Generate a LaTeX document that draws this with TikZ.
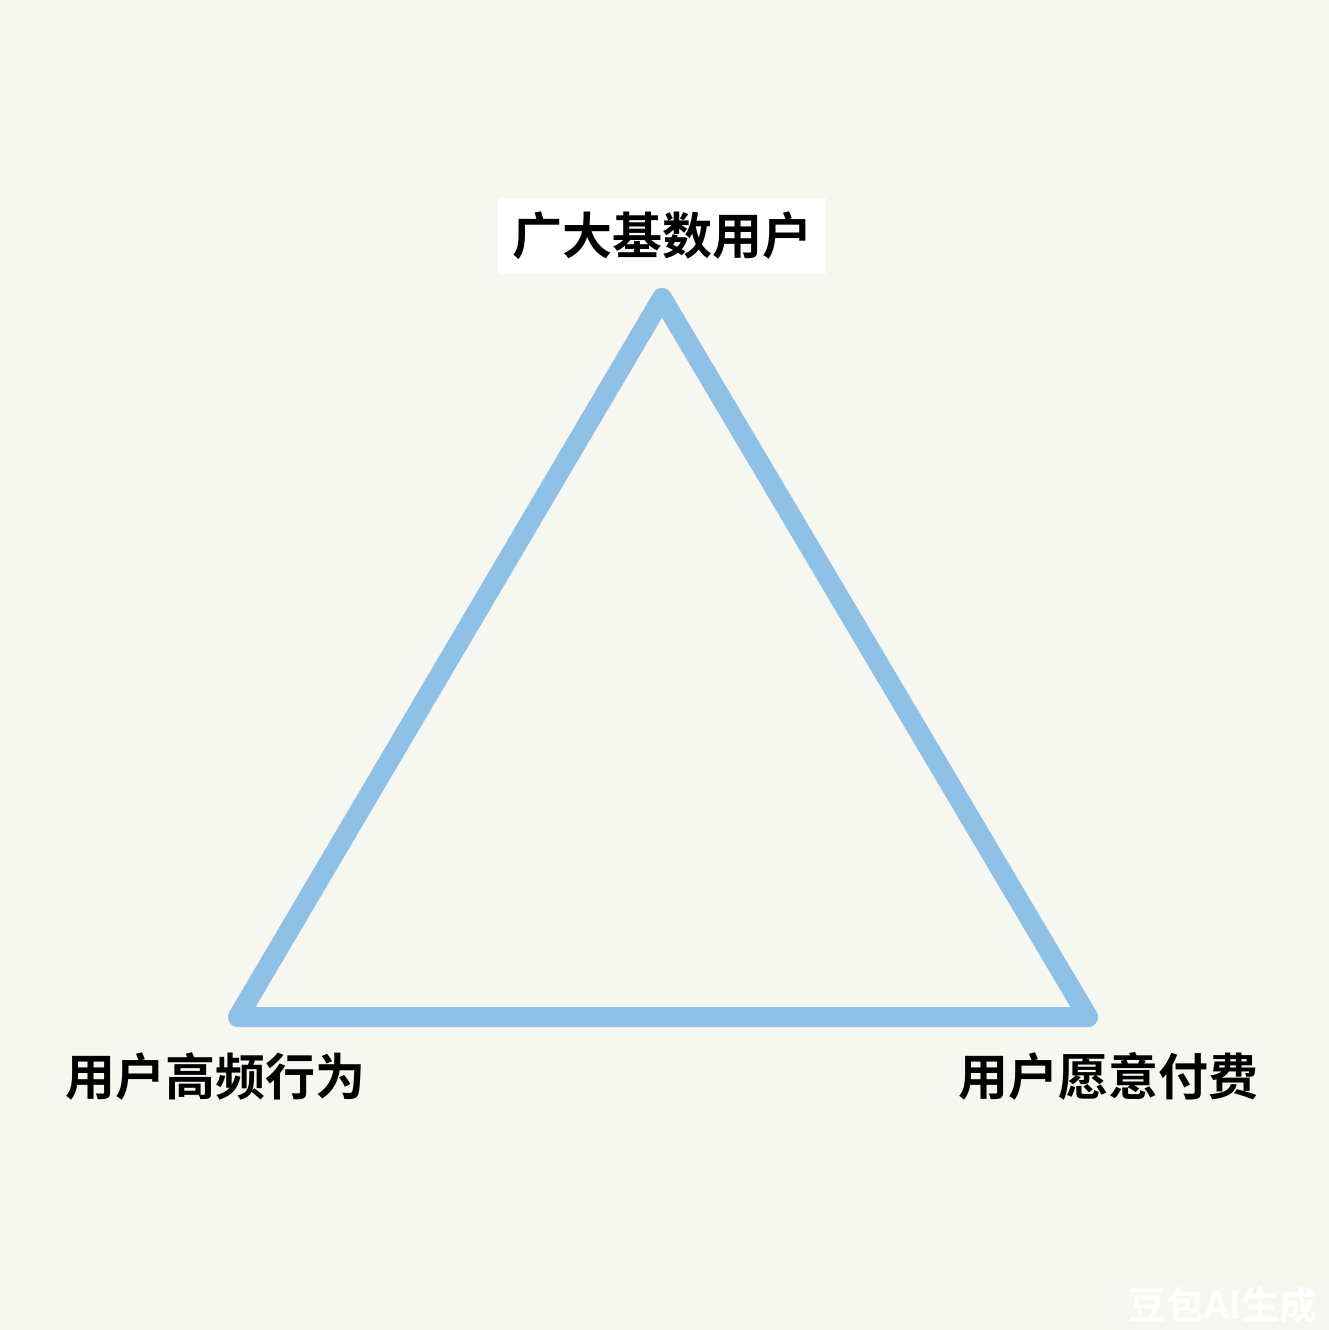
\documentclass[tikz,border=0pt]{standalone}
\usepackage{fontspec}
\newfontfamily\cjk{Noto Sans CJK SC}[BoldFont={Noto Sans CJK SC Bold}]
\definecolor{bgc}{HTML}{F7F7F2}
\definecolor{edgec}{HTML}{8FC0E6}
\definecolor{wmc}{HTML}{FFFFFF}
\tikzset{
  lbl/.style={font=\cjk\bfseries\fontsize{50}{60}\selectfont, text=black, fill=white, inner xsep=14pt, inner ysep=14pt},
  side/.style={draw=edgec, line width=20pt, line join=round, line cap=round},
  wm/.style={font=\cjk\bfseries\fontsize{38}{44}\selectfont, text=wmc, inner sep=0pt}
}
\begin{document}
\begin{tikzpicture}[x=1pt,y=-1pt]
\fill[bgc] (0,0) rectangle (1329,1330);
\useasboundingbox (0,0) rectangle (1329,1330);
\coordinate (top) at (662,298);
\coordinate (bl) at (238,1017);
\coordinate (br) at (1088,1017);
\draw[side] (top) -- (bl) -- (br) -- cycle;
\node[lbl] (ltop) at (662,236) {广大基数用户};
\node[lbl, fill=none] (lleft) at (215,1076) {用户高频行为};
\node[lbl, fill=none] (lright) at (1108,1076) {用户愿意付费};
\node[wm, anchor=east] (wmark) at (1318,1305) {豆包AI生成};
\end{tikzpicture}
\end{document}
